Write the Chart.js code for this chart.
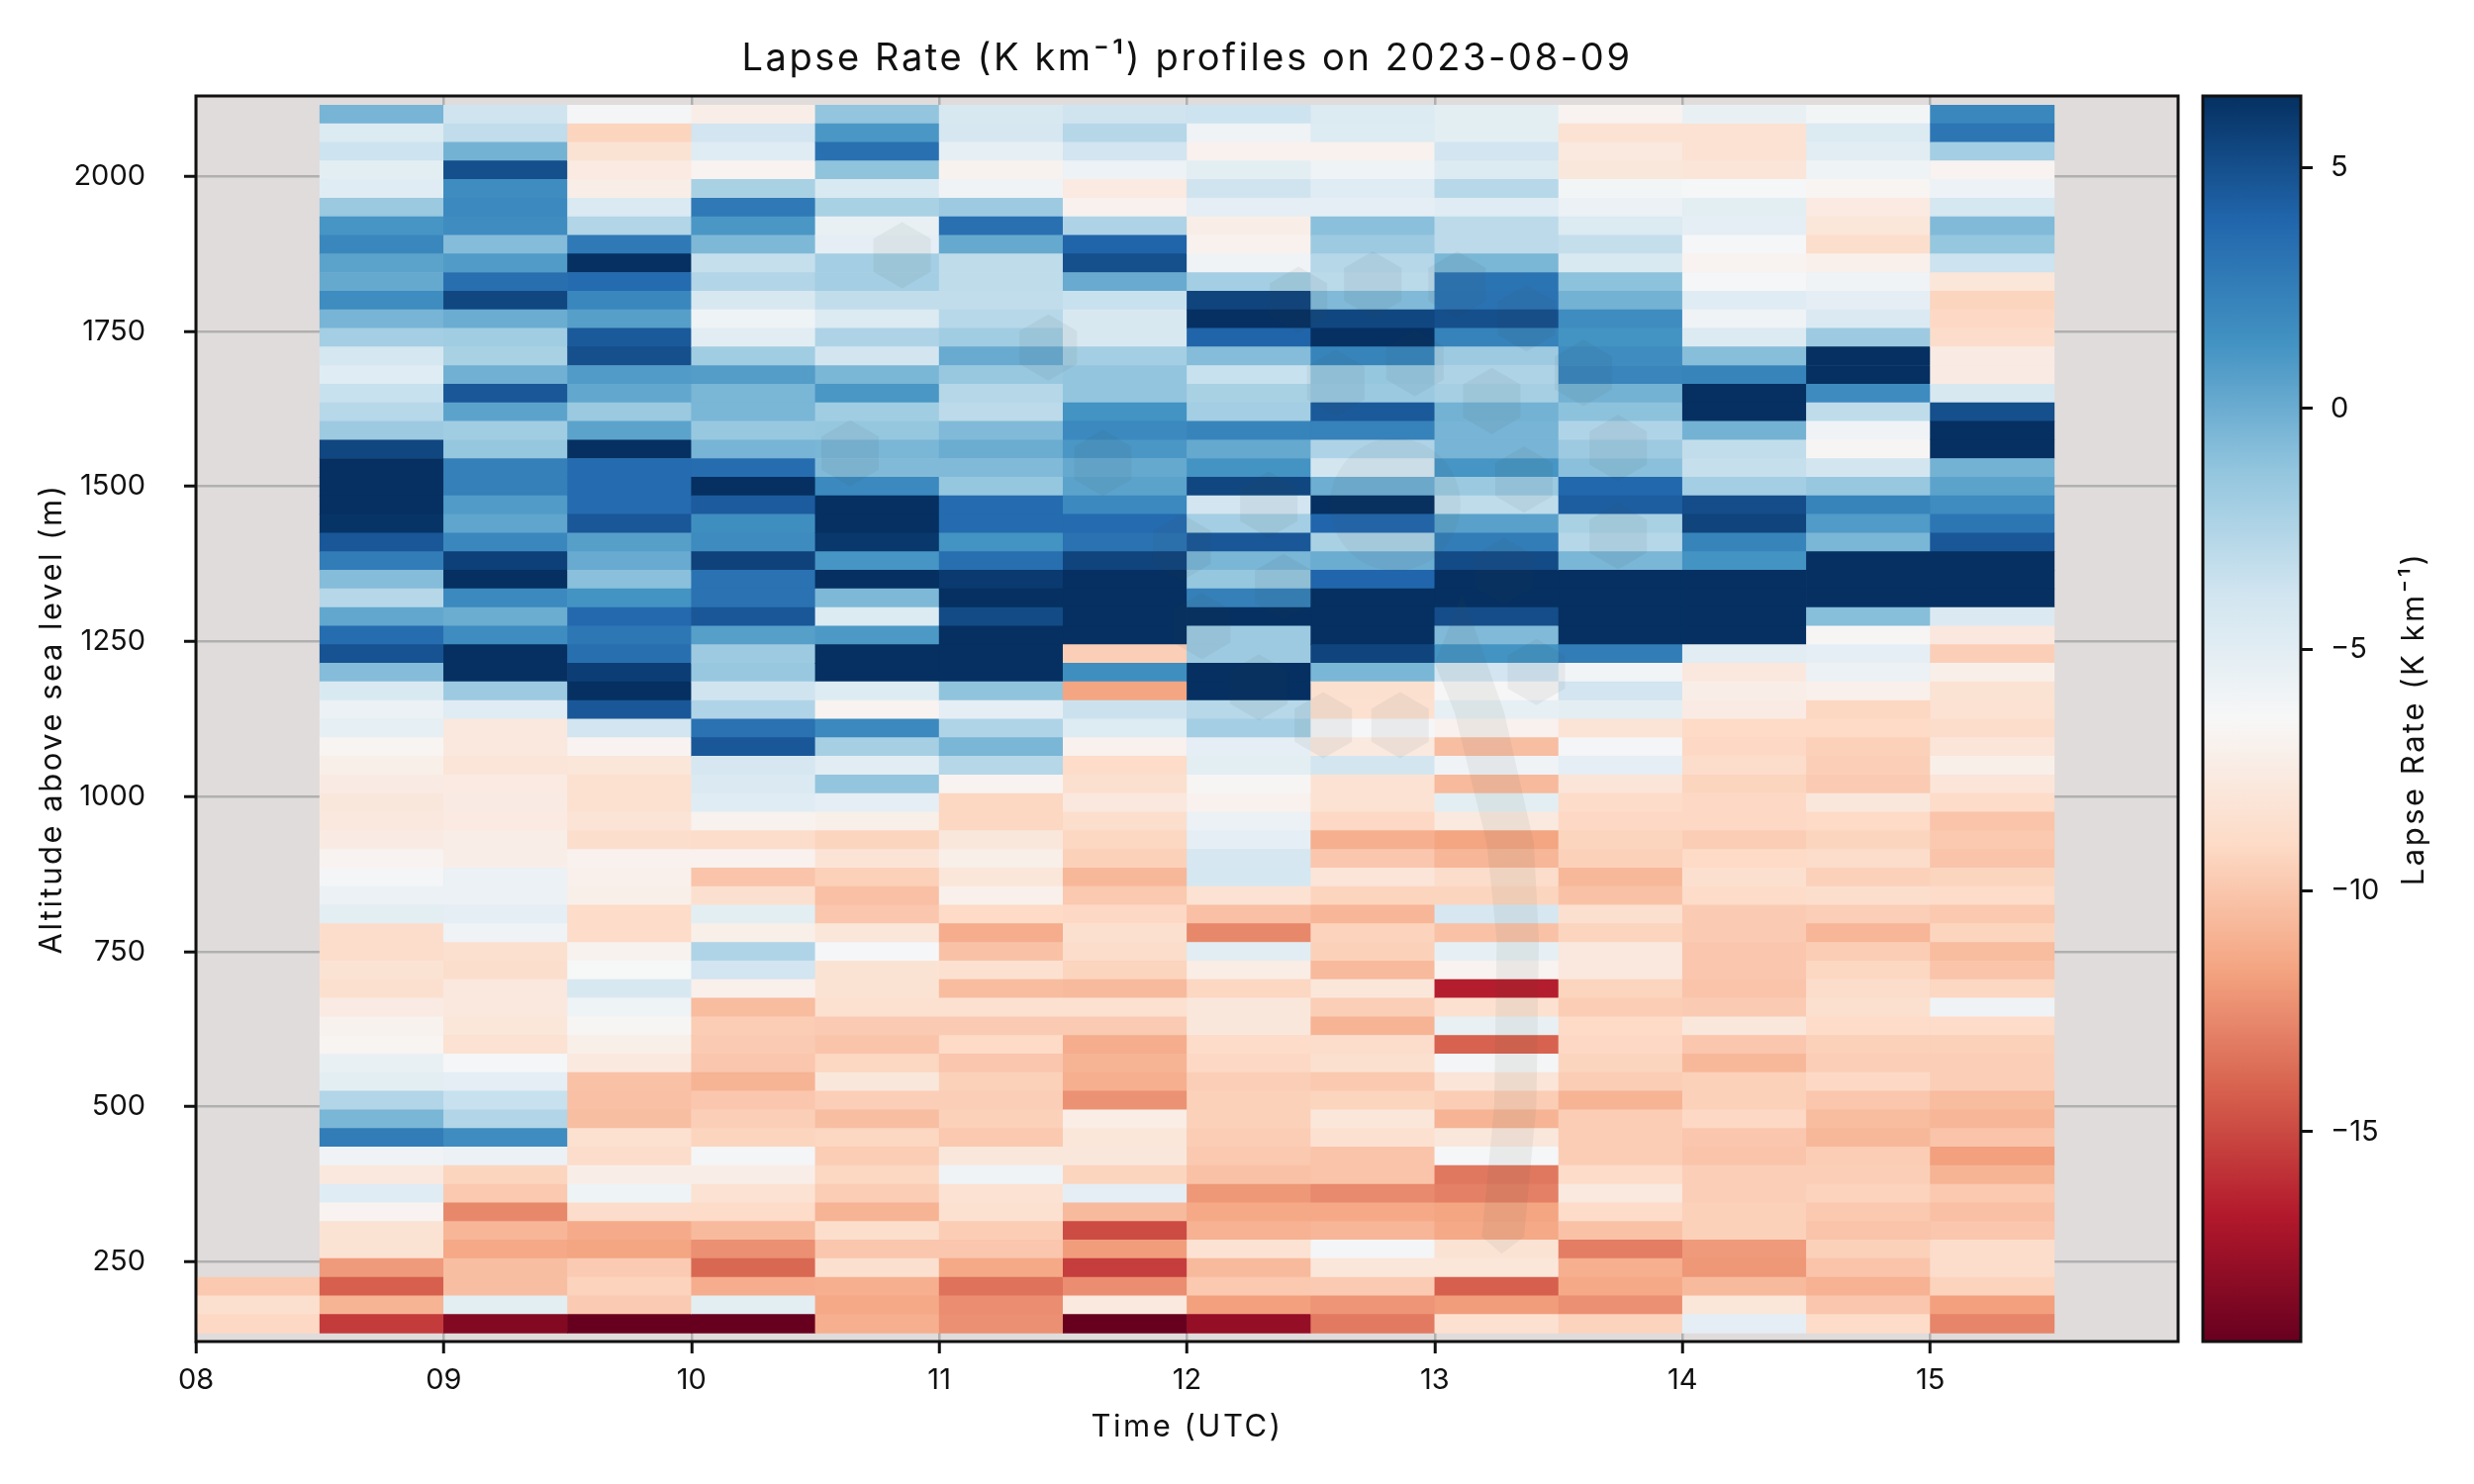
<!DOCTYPE html>
<html>
<head>
<meta charset="utf-8">
<script src="https://cdn.jsdelivr.net/npm/chart.js@4"></script>
<style>
html,body{margin:0;padding:0;background:#fff;width:2500px;height:1500px;overflow:hidden}
canvas{position:absolute;top:0}
#main{left:0}
#bar{left:2201px}
</style>
</head>
<body>
<canvas id="main" width="2500" height="1500"></canvas>
<canvas id="bar" width="299" height="1500"></canvas>
<script>
const altitudes=[2100,2070,2040,2010,1980,1950,1920,1890,1860,1830,1800,1770,1740,1710,1680,1650,1620,1590,1560,1530,1500,1470,1440,1410,1380,1350,1320,1290,1260,1230,1200,1170,1140,1110,1080,1050,1020,990,960,930,900,870,840,810,780,750,720,690,660,630,600,570,540,510,480,450,420,390,360,330,300,270,240,210,180,150];
const altitudes0815=[210,180,150];
const lapse0815=[-9.9,-8.6,-9.1];
const lapse0845=[-0.4,-4.6,-3.7,-5.1,-4.8,-1.6,1.2,2,0.5,0.2,1.7,-0.4,-2,-4.1,-4.8,-3.5,-2.8,-1.7,5.4,6.5,6.5,6.5,6.3,4.6,2.6,-0.8,-2.7,0.3,3.5,4.8,-0.8,-4.4,-5.6,-5.3,-6.7,-7.2,-7.5,-7.9,-7.8,-7.5,-6.8,-6.2,-5.6,-5.1,-8.8,-8.8,-8.3,-8.6,-7.5,-6.9,-6.7,-5.5,-5.1,-2.6,-0.5,2.6,-5.9,-7.8,-4.8,-6.8,-8.3,-8.3,-12,-14.2,-10.9,-15.5];
const lapse0915=[-3.8,-3.2,-0.3,5,1.7,1.9,1.7,-0.8,0.9,3.4,5.4,0,-1.9,-2.2,-0.2,4.6,0.5,-1.9,-1.4,2.4,2.4,0.9,0.4,2,5.7,6.5,1.9,0,1.7,6.5,6.5,-1.7,-4.8,-7.8,-7.8,-8.1,-7.6,-7.5,-7.6,-7.3,-7.3,-5.6,-5.6,-5.2,-5.9,-8.6,-8.7,-7.8,-7.8,-8,-8.4,-6.3,-5.2,-3.5,-2.6,1.7,-5.6,-9.3,-9.9,-12.7,-10.8,-11.4,-10.4,-10.4,-5.1,-18.4];
const lapse0945=[-6.2,-9.3,-8.3,-7.6,-7.3,-4.5,-2.6,2.8,6.5,3.6,2,0.7,4.5,5,0.9,0.3,-1.6,0.5,6.5,3.6,3.6,3.6,4.6,0.7,0.1,-1,1.3,3.7,2.9,3.4,5.8,6.5,4.6,-3.9,-6.8,-8,-8.5,-8.5,-8.2,-8.7,-7,-7.1,-7.2,-8.9,-8.9,-6.9,-6.4,-4.3,-5.8,-6.6,-7.2,-7.7,-10.2,-10.3,-10.4,-8.5,-8.8,-7.3,-5.8,-8.8,-11.3,-11.6,-9.8,-9.4,-9.8,-19.35];
const lapse1015=[-7.3,-3.9,-4.9,-6.8,-2.2,2.8,1.1,-0.6,-3.4,-2.6,-4.3,-5.8,-5,-1.9,0.8,-0.5,-0.5,-1.5,-0.4,3.5,6.5,4.4,1.6,1.8,5.6,3.2,3.2,4.6,0.7,-1.7,-1.5,-3.8,-2.5,3.2,4.6,-4.2,-4.5,-4.8,-6.9,-8.8,-7,-10.1,-8.6,-5.1,-7.2,-2.5,-3.9,-7.1,-10.5,-9.7,-9.8,-10,-10.9,-10,-9.6,-9.3,-6.2,-7.3,-8.4,-8.9,-10.6,-12.4,-13.9,-11.2,-5.1,-19.35];
const lapse1045=[-1.3,1.1,3.3,-1.2,-4.4,-2.2,-5.4,-5.2,-2,-2,-3.2,-4.6,-2.4,-4,-0.5,1.1,-1.9,-1.4,-0.5,-0.7,1.9,6.5,6.5,6.1,1.2,6.5,-0.6,-4.6,1,6.5,6.5,-4.7,-6.8,1.9,-2.1,-5,-1.3,-5.2,-7.2,-9.3,-8.2,-9.5,-10.3,-10,-8,-6.3,-8.3,-8.3,-8.5,-9.8,-10.1,-9.2,-7.9,-9.6,-10.4,-9.2,-9.7,-9.2,-9.7,-10.9,-8.7,-10,-8.6,-11.1,-11.4,-11.1];
const lapse1115=[-4.3,-4.2,-5.3,-6.9,-5.9,-1.7,3.3,0.2,-3.1,-3.1,-3.2,-2.8,-1.9,0.1,-1.5,-2.7,-3,-0.7,0,-0.7,-1.4,3.6,3.6,1.3,3.4,6,6.5,5.2,6.5,6.5,6.5,-1.2,-5.2,-2.5,-0.5,-2.7,-6.8,-9.2,-9.2,-7.9,-7.2,-8,-7.1,-9,-11.2,-10.2,-8.5,-10.5,-8.5,-9.8,-9,-10,-9.5,-9.6,-9.5,-9.9,-7.9,-5.9,-8.4,-8.5,-9.7,-10,-11.4,-13.5,-12.5,-12.4];
const lapse1145=[-3.8,-2.7,-3.9,-5.7,-7.6,-7,-2.4,4,5,0.1,-3.5,-4.3,-4.3,-2,-1.3,-1.3,1.3,1.9,1.1,0.2,0.5,1.9,3.6,3.2,5.5,6.5,6.5,6.5,6.5,-9.6,1.6,-11.6,-3.6,-4.7,-7,-8.9,-8.6,-7.8,-8.7,-9.2,-9.5,-10.7,-9.9,-9.1,-8.6,-8.8,-9.3,-10.6,-8.5,-9.8,-11.2,-10.9,-11.1,-12.3,-7.4,-8,-7.9,-9.3,-5.2,-10.6,-14.9,-11.9,-15.4,-12.5,-7.7,-19.35];
const lapse1215=[-3.7,-5.9,-7,-5.1,-3.8,-5.2,-7.3,-7,-5.9,-2,5.5,6.5,4,-0.8,-3.5,-2.2,-2,2.2,0.2,1.3,5.4,-3.9,-2,4.6,-0.5,-1.4,2.4,6.5,-1.7,-1.7,6.5,6.5,-2.8,-2,-5.2,-5.1,-6.6,-7,-5.6,-5.2,-4.2,-4.1,-8.4,-10.3,-12.7,-5,-7.4,-9.2,-7.9,-7.9,-8.9,-9.1,-9.6,-9.5,-9.5,-9.7,-9.9,-10.2,-12.1,-11.4,-11,-8.4,-10.6,-9.9,-11.8,-17.8];
const lapse1245=[-4.6,-4.7,-7,-5.8,-4.8,-5.2,-1,-1.7,-2.7,-2.9,-0.7,5.4,6.5,2.2,-1.4,-1.6,4.5,2.3,-2.4,-4,-0.1,6.5,3.9,-2.2,0,3.9,6.5,6.5,6.5,5.5,-0.5,-8.6,-8.5,-6.3,-7.7,-4,-8.4,-8.4,-9.1,-11.1,-10,-8.1,-9.3,-10.8,-9.4,-9.5,-10.6,-8,-9.6,-10.9,-8.8,-8.6,-9.9,-9.3,-8,-8.5,-10.1,-10.1,-12.6,-11.4,-10.8,-6.2,-8,-9.8,-12.2,-13.2];
const lapse1315=[-5.1,-5.1,-3.9,-4.6,-2.8,-4.8,-3,-3,-0.5,3.1,3.2,5,2.3,-1.7,-2.4,-2.1,-0.3,-0.4,-0.4,1.2,-1.6,-3.1,0.6,2.6,5.2,6.5,6.5,5.1,-0.7,1.3,-3.9,-6.5,-5.3,-7,-10.4,-5.9,-10.6,-5.1,-7.7,-11.6,-10.8,-8.8,-9.3,-4.2,-10.2,-5.3,-6.8,-16.6,-8.5,-5.5,-14.1,-6.2,-8.1,-9.7,-10.9,-7.9,-6.3,-13.3,-13,-11.6,-11.4,-8.3,-8,-14.2,-11.9,-8.5];
const lapse1345=[-6.8,-8.4,-7.7,-7.9,-6.1,-5.6,-4.6,-3.3,-4.4,-1.1,-0.3,1.7,1.3,1.7,2.1,-0.3,-1.1,-2.5,-1.7,-1,3.8,4.3,-2.2,-2.7,-0.5,6.5,6.5,6.5,6.5,2.6,-6,-3.9,-5.1,-8.2,-6.2,-5.2,-8.1,-8.9,-9.1,-9.3,-9.5,-10.7,-10.2,-8.6,-9.3,-7.8,-7.8,-9.3,-9.7,-9,-9.1,-9.3,-9.7,-10.9,-9.7,-9.7,-9.7,-8.9,-7.7,-8.9,-10.2,-13.1,-11.1,-11.4,-12.4,-9.4];
const lapse1415=[-5.5,-8.4,-8.4,-8.1,-6.3,-5.1,-5.2,-6.3,-6.8,-6.3,-4.8,-5.9,-4.6,-0.9,2.2,6.5,6.5,-0.3,-3.2,-3.4,-2,5.1,5.5,2.2,1.3,6.5,6.5,6.5,6.5,-5,-7.8,-7.3,-7.5,-9,-9.1,-8.8,-9.3,-9.1,-9.1,-9.7,-9,-8.6,-8.9,-9.8,-9.8,-10,-10,-10.1,-9.8,-7.9,-10,-10.7,-9.5,-9.5,-9.1,-10,-10.1,-9.6,-9.6,-9.5,-9.5,-12,-12.1,-10.6,-8,-5.2];
const lapse1445=[-6.1,-4.6,-5,-5.8,-6.7,-7.6,-8,-8.7,-7.1,-5.9,-5.2,-4.5,-1.7,6.5,6.5,1.8,-3.1,-5.9,-6.6,-4,-1.5,2.2,0.9,-0.5,6.5,6.5,6.5,-0.9,-6.6,-5.2,-5.6,-7.1,-9.2,-9,-9.5,-9.6,-9.8,-7.9,-9,-9.3,-8.8,-9.5,-8.7,-9.6,-10.8,-9.7,-9.2,-8.8,-8.6,-8.9,-9.5,-9.6,-9.1,-10,-10.5,-10.7,-9.7,-9.6,-9.4,-9.9,-10.1,-9.5,-10.1,-11,-10,-8.9];
const lapse1515=[2,3,-2,-6.8,-5.7,-4.1,-0.7,-1.4,-3.7,-8,-9.3,-9.1,-8.8,-7.5,-7.5,-4.3,5,6.5,6.5,-0.3,0.5,1.7,3,4.6,6.5,6.5,6.5,-4.5,-7.8,-9.6,-7.2,-8.3,-8.4,-8.8,-8.1,-7.2,-8.1,-8.9,-10.1,-9.9,-10.1,-9.3,-8.9,-9.9,-9.3,-10.5,-10.1,-9.2,-5.9,-8.9,-9.5,-9.6,-9.6,-10.5,-10.8,-10.1,-11.8,-10.9,-9.9,-10.3,-10,-8.8,-8.8,-9.4,-11.8,-12.8];
const timeCentres=[8.75,9.25,9.75,10.25,10.75,11.25,11.75,12.25,12.75,13.25,13.75,14.25,14.75,15.25];
const timeColumns=[lapse0845,lapse0915,lapse0945,lapse1015,lapse1045,lapse1115,lapse1145,lapse1215,lapse1245,lapse1315,lapse1345,lapse1415,lapse1445,lapse1515];
const xTicks=[8,9,10,11,12,13,14,15];
const xLabels=['08','09','10','11','12','13','14','15'];
const yTicks=[250,500,750,1000,1250,1500,1750,2000];
const cbTicks=[5,0,-5,-10,-15];
const rdbu=['#67001f','#b2182b','#d6604d','#f4a582','#fddbc7','#f7f7f7','#d1e5f0','#92c5de','#4393c3','#2166ac','#053061'];
const vMin=-19.35, vMax=6.48, rowHalf=15;
// faint background emblem of the reference, in hour / altitude units
const hexCentres=[[10.85,1873],[11.44,1724],[10.64,1554],[11.66,1538],[12.45,1801],[12.75,1826],[12.60,1667],[12.92,1699],[13.09,1826],[13.23,1638],[12.33,1471],[13.37,1771],[13.60,1683],[13.74,1562],[13.36,1511],[13.74,1420],[13.28,1364],[13.41,1201],[11.98,1402],[12.39,1338],[12.06,1275],[12.29,1176],[12.55,1115],[12.86,1115]];
const swoosh=[[13.11,1327],[13.14,1295],[13.28,1136],[13.40,924],[13.42,769],[13.41,502],[13.36,290],[13.27,263],[13.19,290],[13.24,502],[13.25,769],[13.21,924],[13.08,1136],[13.00,1215]];
const disc=[12.84,1471];
const INK='#111111', FONT='Inter, "Noto Sans", sans-serif';

function hex(c){return [1,3,5].map(i=>parseInt(c.slice(i,i+2),16));}
function colourFor(v){
  const t=Math.min(1,Math.max(0,(v-vMin)/(vMax-vMin)))*(rdbu.length-1);
  const i=Math.min(rdbu.length-2,Math.floor(t)),f=t-i,a=hex(rdbu[i]),b=hex(rdbu[i+1]);
  return 'rgb('+a.map((x,k)=>Math.round(x+(b[k]-x)*f)).join(',')+')';
}
function spacedText(c,text,x,y,size,spacing,rot){
  c.save();c.translate(x,y);if(rot)c.rotate(rot);
  c.fillStyle=INK;c.font=size+'px '+FONT;c.textAlign='center';c.textBaseline='middle';
  c.letterSpacing=spacing+'px';c.fillText(text,0,0);c.letterSpacing='0px';c.restore();
}
const cells=[];
altitudes0815.forEach((alt,r)=>cells.push({x:8.25,y:[alt-rowHalf,alt+rowHalf],v:lapse0815[r]}));
timeColumns.forEach((col,c)=>col.forEach((v,r)=>cells.push({x:timeCentres[c],y:[altitudes[r]-rowHalf,altitudes[r]+rowHalf],v})));

const frame={id:'frame',
  afterDraw(ch){const a=ch.chartArea,c=ch.ctx;c.save();c.strokeStyle=INK;c.lineWidth=3;c.strokeRect(a.left,a.top,a.width,a.height);c.restore();}
};
const plotBack={id:'plotBack',
  beforeDraw(ch){const a=ch.chartArea,c=ch.ctx;c.save();c.fillStyle='#e0dcdb';c.fillRect(a.left,a.top,a.width,a.height);c.restore();},
  afterDatasetsDraw(ch){
    const c=ch.ctx,X=ch.scales.x,Y=ch.scales.y,rx=29,ry=33.5;c.save();
    c.fillStyle='rgba(60,70,70,0.065)';
    hexCentres.forEach(([h,a])=>{const x=X.getPixelForValue(h),y=Y.getPixelForValue(a);
      c.beginPath();c.moveTo(x,y-ry);c.lineTo(x+rx,y-ry/2);c.lineTo(x+rx,y+ry/2);c.lineTo(x,y+ry);c.lineTo(x-rx,y+ry/2);c.lineTo(x-rx,y-ry/2);c.closePath();c.fill();});
    c.fillStyle='rgba(70,80,70,0.055)';
    c.beginPath();c.ellipse(X.getPixelForValue(disc[0]),Y.getPixelForValue(disc[1]),66,67,0,0,Math.PI*2);c.fill();
    c.fillStyle='rgba(70,80,70,0.07)';
    c.beginPath();swoosh.forEach(([h,a],i)=>{const x=X.getPixelForValue(h),y=Y.getPixelForValue(a);i?c.lineTo(x,y):c.moveTo(x,y);});c.closePath();c.fill();
    c.restore();
  },
  afterDraw(ch){const a=ch.chartArea,c=ch.ctx,cx=(a.left+a.right)/2,cy=(a.top+a.bottom)/2;
    spacedText(c,'Lapse Rate (K km⁻¹) profiles on 2023-08-09',cx,60,38,2.6);
    spacedText(c,'Time (UTC)',cx,1443,31,2.5);
    spacedText(c,'Altitude above sea level (m)',53,cy,31,2.5,-Math.PI/2);
  }
};

new Chart(document.getElementById('main'),{
  type:'bar',
  data:{datasets:[{data:cells,borderWidth:0,barPercentage:1,categoryPercentage:1,
    backgroundColor:c=>c.raw?colourFor(c.raw.v):'#fff'}]},
  plugins:[plotBack,frame],
  options:{
    responsive:false,animation:false,devicePixelRatio:1,
    layout:{padding:{left:0,right:299,top:97,bottom:0}},
    plugins:{legend:{display:false},tooltip:{enabled:false},title:{display:false}},
    scales:{
      x:{type:'linear',min:8,max:16,offset:false,
        afterBuildTicks:s=>{s.ticks=xTicks.map(value=>({value}));},
        afterFit:s=>{s.height=144;},
        grid:{offset:false,color:'#b0b0b0',lineWidth:2.5,drawTicks:true,tickColor:INK,tickLength:12,tickWidth:3},
        border:{display:false},
        ticks:{color:INK,font:{family:FONT,size:29},padding:10,maxRotation:0,autoSkip:false,
          callback:v=>xLabels[xTicks.indexOf(v)]}},
      y:{type:'linear',min:121.3,max:2129.7,
        afterBuildTicks:s=>{s.ticks=yTicks.map(value=>({value}));},
        afterFit:s=>{s.width=198;},
        grid:{color:'#b0b0b0',lineWidth:2.5,drawTicks:true,tickColor:INK,tickLength:12,tickWidth:3},
        border:{display:false},
        ticks:{color:INK,font:{family:FONT,size:29},padding:39,autoSkip:false,callback:v=>String(v)}}
    }
  }
});

const cbLabel={id:'cbLabel',afterDraw(ch){const a=ch.chartArea;
  spacedText(ch.ctx,'Lapse Rate (K km⁻¹)',239,(a.top+a.bottom)/2,31,2.5,-Math.PI/2);}};

new Chart(document.getElementById('bar'),{
  type:'bar',
  data:{labels:[''],datasets:[{data:[[vMin,vMax]],borderWidth:0,barPercentage:1,categoryPercentage:1,
    backgroundColor:c=>{const a=c.chart.chartArea;if(!a)return '#888';
      const s=c.chart.scales.y,g=c.chart.ctx.createLinearGradient(0,s.getPixelForValue(vMin),0,s.getPixelForValue(vMax));
      rdbu.forEach((col,i)=>g.addColorStop(i/(rdbu.length-1),col));return g;}}]},
  plugins:[frame,cbLabel],
  options:{
    responsive:false,animation:false,devicePixelRatio:1,
    layout:{padding:{left:25,right:75,top:97,bottom:144}},
    plugins:{legend:{display:false},tooltip:{enabled:false},title:{display:false}},
    scales:{
      x:{display:false},
      y:{type:'linear',position:'right',min:vMin,max:vMax,
        afterBuildTicks:s=>{s.ticks=cbTicks.map(value=>({value}));},
        afterFit:s=>{s.width=100;},
        grid:{display:true,drawOnChartArea:false,drawTicks:true,tickColor:INK,tickLength:12,tickWidth:3},
        border:{display:false},
        ticks:{color:INK,font:{family:FONT,size:29},padding:18,autoSkip:false,
          callback:v=>String(v).replace('-','−')}}
    }
  }
});
</script>
</body>
</html>
